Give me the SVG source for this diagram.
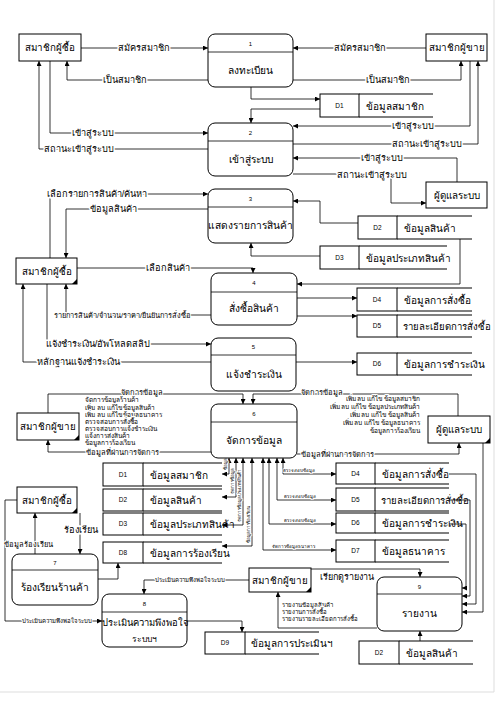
<svg xmlns="http://www.w3.org/2000/svg" width="497" height="703" viewBox="0 0 497 703">
<defs>
<marker id="a" viewBox="0 0 10 10" refX="10" refY="5" markerWidth="5" markerHeight="5" orient="auto-start-reverse" markerUnits="userSpaceOnUse"><path d="M0,0 L10,5 L0,10 z" fill="#000"/></marker>
<style>
text{font-family:"Liberation Sans","DejaVu Sans","Noto Sans",sans-serif;fill:#000}
.b{fill:#fff;stroke:#000;stroke-width:1}
.hl{stroke:#000;stroke-width:0.8}
.sl{stroke:#000;stroke-width:1.2}
.c path{fill:none;stroke:#000;stroke-width:0.8;marker-end:url(#a)}
.c path.bi{marker-start:url(#a)}
.en{font-size:9.8px;text-anchor:middle}
.pn{font-size:6px;text-anchor:middle}
.pl{font-size:10.2px;text-anchor:middle}
.si{font-size:6.5px;text-anchor:middle}
.st{font-size:10px}
.lb{font-size:9.2px;text-anchor:middle;stroke:#fff;stroke-width:3;paint-order:stroke}
.sm{font-size:6.5px;stroke:#fff;stroke-width:2;paint-order:stroke}
.tn{font-size:4.5px;stroke:#fff;stroke-width:1.5;paint-order:stroke}
.tri{fill:#000}
</style>
</defs>
<rect width="497" height="703" fill="#fff"/>
<line x1="494" y1="0" x2="494" y2="692" stroke="#ddd" stroke-width="1"/>
<line x1="0" y1="692" x2="494" y2="692" stroke="#ddd" stroke-width="1"/>

<g id="connectors" class="c">
<path d="M81 48 H208"/>
<path d="M208 80 H67 V61"/>
<path d="M426 48 H293"/>
<path d="M293 80 H461 V61"/>
<path d="M251 87 V99 H320"/>
<path d="M320 109 H251 V123"/>
<path d="M50 61 V133 H208"/>
<path d="M208 149 H39 V61"/>
<path d="M470 61 V126 H293"/>
<path d="M293 144 H478 V61"/>
<path d="M457 182 V158 H293"/>
<path d="M293 174 H391 V203 H426"/>
<path d="M50 258 V194 H208"/>
<path d="M208 209 H66 V258"/>
<path d="M358 223 H320 V201 H293"/>
<path d="M320 256 H251 V243"/>
<path d="M77 268 H253 V273"/>
<path d="M460 239 V284 H297"/>
<path d="M297 298 H357"/>
<path d="M297 316 H357"/>
<path d="M211 315 H66 V284"/>
<path d="M47 284 V344 H211"/>
<path d="M211 362 H23 V284"/>
<path d="M296 362 H357"/>
<path d="M48 413 V394 H243 V404"/>
<path d="M211 452 H48 V440"/>
<path d="M458 416 V394 H253 V404"/>
<path d="M297 454 H459 V443"/>
<path d="M483 443 V612 H462"/>
<path class="bi" d="M222 474 H229 V458"/>
<path class="bi" d="M222 497 H236 V458"/>
<path class="bi" d="M222 525 H243 V458"/>
<path class="bi" d="M222 546 H252 V458"/>
<path class="bi" d="M283 458 V474 H336"/>
<path class="bi" d="M277 458 V500 H336"/>
<path class="bi" d="M269 458 V524 H336"/>
<path class="bi" d="M263 458 V550 H336"/>
<path d="M80 513 V554"/>
<path d="M35 554 V513"/>
<path d="M98 579 H118 V563"/>
<path d="M17 500 H5 V621 H102"/>
<path d="M249 580 H144 V594"/>
<path d="M187 621 H242 V632"/>
<path d="M311 569 H420 V577"/>
<path d="M377 628 H278 V592"/>
<path d="M420 641 V631"/>
<path d="M449 474 H476 V604 H462"/>
<path d="M449 500 H470 V596 H462"/>
<path d="M449 524 H466 V588 H462"/>
</g>

<g id="connector-labels">
<text class="lb" x="144" y="51">สมัครสมาชิก</text>
<text class="lb" x="125" y="83">เป็นสมาชิก</text>
<text class="lb" x="360" y="51">สมัครสมาชิก</text>
<text class="lb" x="388" y="83">เป็นสมาชิก</text>
<text class="lb" x="93" y="136">เข้าสู่ระบบ</text>
<text class="lb" x="79" y="152">สถานะเข้าสู่ระบบ</text>
<text class="lb" x="413" y="129">เข้าสู่ระบบ</text>
<text class="lb" x="427" y="147">สถานะเข้าสู่ระบบ</text>
<text class="lb" x="382" y="161">เข้าสู่ระบบ</text>
<text class="lb" x="372" y="178">สถานะเข้าสู่ระบบ</text>
<text class="lb" x="97" y="197">เลือกรายการสินค้า/ค้นหา</text>
<text class="lb" x="113" y="212">ข้อมูลสินค้า</text>
<text class="lb" x="168" y="271">เลือกสินค้า</text>
<text class="sm" x="122" y="318" text-anchor="middle" style="font-size:7.4px">รายการสินค้า/จำนวน/ราคา/ยืนยันการสั่งซื้อ</text>
<text class="lb" x="98" y="347">แจ้งชำระเงิน/อัพโหลดสลิป</text>
<text class="lb" x="78" y="365">หลักฐานแจ้งชำระเงิน</text>
<text class="sm" x="142" y="395" text-anchor="middle" style="font-size:7.5px">จัดการข้อมูล</text>
<text class="sm" x="85" y="402">จัดการข้อมูลร้านค้า</text>
<text class="sm" x="85" y="409.5">เพิ่ม ลบ แก้ไข ข้อมูลสินค้า</text>
<text class="sm" x="85" y="417">เพิ่ม ลบ แก้ไข ข้อมูลธนาคาร</text>
<text class="sm" x="85" y="424">ตรวจสอบการสั่งซื้อ</text>
<text class="sm" x="85" y="431">ตรวจสอบการแจ้งชำระเงิน</text>
<text class="sm" x="85" y="438">แจ้งการส่งสินค้า</text>
<text class="sm" x="85" y="445">ข้อมูลการร้องเรียน</text>
<text class="sm" x="122" y="454.5" text-anchor="middle" style="font-size:7.5px">ข้อมูลที่ผ่านการจัดการ</text>
<text class="sm" x="322" y="395" text-anchor="middle" style="font-size:7.5px">จัดการข้อมูล</text>
<text class="sm" x="420" y="401" text-anchor="end">เพิ่ม ลบ แก้ไข ข้อมูลสมาชิก</text>
<text class="sm" x="420" y="409" text-anchor="end">เพิ่ม ลบ แก้ไข ข้อมูลประเภทสินค้า</text>
<text class="sm" x="420" y="417" text-anchor="end">เพิ่ม ลบ แก้ไข ข้อมูลสินค้า</text>
<text class="sm" x="420" y="425" text-anchor="end">เพิ่ม ลบ แก้ไข ข้อมูลธนาคาร</text>
<text class="sm" x="420" y="433" text-anchor="end">ข้อมูลการร้องเรียน</text>
<text class="sm" x="337" y="457" text-anchor="middle" style="font-size:7.5px">ข้อมูลที่ผ่านการจัดการ</text>
<text class="tn" transform="translate(227 470) rotate(-90)">ข้อมูล</text>
<text class="tn" transform="translate(234 494) rotate(-90)">จัดการข้อมูล</text>
<text class="tn" transform="translate(241 522) rotate(-90)">จัดการข้อมูลประเภทสินค้า</text>
<text class="tn" transform="translate(250 543) rotate(-90)">ข้อมูลการร้องเรียน</text>
<text class="tn" x="299" y="472" text-anchor="middle">ตรวจสอบข้อมูล</text>
<text class="tn" x="300" y="498" text-anchor="middle">ตรวจสอบข้อมูล</text>
<text class="tn" x="300" y="522" text-anchor="middle">ตรวจสอบข้อมูล</text>
<text class="tn" x="293" y="548" text-anchor="middle">จัดการข้อมูลธนาคาร</text>
<text class="lb" x="81" y="533">ร้องเรียน</text>
<text class="sm" x="28" y="547" text-anchor="middle" style="font-size:7.5px">ข้อมูลร้องเรียน</text>
<text class="sm" x="57" y="623" text-anchor="middle" style="font-size:6px">ประเมินความพึงพอใจระบบ</text>
<text class="sm" x="190" y="582" text-anchor="middle" style="font-size:6px">ประเมินความพึงพอใจระบบ</text>
<text class="lb" x="347" y="580" style="font-size:9px">เรียกดูรายงาน</text>
<text class="sm" x="282" y="607" style="font-size:6px">รายงานข้อมูลสินค้า</text>
<text class="sm" x="282" y="614" style="font-size:6px">รายงานการสั่งซื้อ</text>
<text class="sm" x="282" y="621" style="font-size:6px">รายงานรายละเอียดการสั่งซื้อ</text>
</g>

<g id="e-buyer-1"><rect class="b" x="19" y="34" width="62" height="27"/><text class="en" x="50" y="51">สมาชิกผู้ซื้อ</text></g>
<g id="e-seller-1"><rect class="b" x="426" y="34" width="61" height="27"/><text class="en" x="456.5" y="51">สมาชิกผู้ขาย</text></g>
<g id="e-admin-1"><rect class="b" x="426" y="182" width="61" height="26"/><text class="en" x="456.5" y="199">ผู้ดูแลระบบ</text></g>
<g id="e-buyer-2"><rect class="b" x="16" y="258" width="61" height="26"/><path class="tri" d="M77 279 V284 H72 z"/><text class="en" x="46.5" y="275">สมาชิกผู้ซื้อ</text></g>
<g id="e-seller-2"><rect class="b" x="17" y="413" width="62" height="27"/><path class="tri" d="M79 435 V440 H74 z"/><text class="en" x="48" y="430">สมาชิกผู้ขาย</text></g>
<g id="e-admin-2"><rect class="b" x="428" y="416" width="62" height="27"/><path class="tri" d="M490 438 V443 H485 z"/><text class="en" x="459" y="433">ผู้ดูแลระบบ</text></g>
<g id="e-buyer-3"><rect class="b" x="17" y="487" width="60" height="26"/><path class="tri" d="M77 508 V513 H72 z"/><text class="en" x="47" y="504">สมาชิกผู้ซื้อ</text></g>
<g id="e-seller-3"><rect class="b" x="249" y="568" width="62" height="24"/><path class="tri" d="M311 587 V592 H306 z"/><text class="en" x="280" y="584">สมาชิกผู้ขาย</text></g>

<g id="p1"><rect class="b" x="208" y="34" width="85" height="53" rx="7"/><line class="hl" x1="208" y1="52" x2="293" y2="52"/><text class="pn" x="250.5" y="46">1</text><text class="pl" x="250.5" y="74">ลงทะเบียน</text></g>
<g id="p2"><rect class="b" x="208" y="123" width="85" height="53" rx="7"/><line class="hl" x1="208" y1="141" x2="293" y2="141"/><text class="pn" x="250.5" y="135">2</text><text class="pl" x="250.5" y="163">เข้าสู่ระบบ</text></g>
<g id="p3"><rect class="b" x="208" y="189" width="85" height="54" rx="7"/><line class="hl" x1="208" y1="207" x2="293" y2="207"/><text class="pn" x="250.5" y="201">3</text><text class="pl" x="250.5" y="229">แสดงรายการสินค้า</text></g>
<g id="p4"><rect class="b" x="211" y="273" width="86" height="52" rx="7"/><line class="hl" x1="211" y1="292" x2="297" y2="292"/><text class="pn" x="254" y="285">4</text><text class="pl" x="254" y="312">สั่งซื้อสินค้า</text></g>
<g id="p5"><rect class="b" x="211" y="338" width="85" height="53" rx="7"/><line class="hl" x1="211" y1="355" x2="296" y2="355"/><text class="pn" x="253.5" y="349">5</text><text class="pl" x="253.5" y="378">แจ้งชำระเงิน</text></g>
<g id="p6"><rect class="b" x="211" y="404" width="86" height="54" rx="7"/><line class="hl" x1="211" y1="422" x2="297" y2="422"/><text class="pn" x="254" y="416">6</text><text class="pl" x="254" y="444">จัดการข้อมูล</text></g>
<g id="p7"><rect class="b" x="12" y="554" width="86" height="51" rx="7"/><line class="hl" x1="12" y1="570" x2="98" y2="570"/><text class="pn" x="55" y="565">7</text><text class="pl" x="55" y="591">ร้องเรียนร้านค้า</text></g>
<g id="p8"><rect class="b" x="102" y="594" width="85" height="53" rx="7"/><line class="hl" x1="102" y1="612" x2="187" y2="612"/><text class="pn" x="144.5" y="606">8</text><text class="pl" x="144.5" y="626" style="font-size:9.4px">ประเมินความพึงพอใจ</text><text class="pl" x="144.5" y="642" style="font-size:8.5px">ระบบฯ</text></g>
<g id="p9"><rect class="b" x="377" y="577" width="85" height="54" rx="7"/><line class="hl" x1="377" y1="594" x2="462" y2="594"/><text class="pn" x="419.5" y="589">9</text><text class="pl" x="419.5" y="617">รายงาน</text></g>

<g id="d1-a"><rect class="b" x="320" y="94" width="39" height="23"/><line class="sl" x1="359" y1="94" x2="433" y2="94"/><line class="sl" x1="359" y1="117" x2="433" y2="117"/><text class="si" x="339.5" y="108">D1</text><text class="st" x="366" y="109.5">ข้อมูลสมาชิก</text></g>
<g id="d2-a"><rect class="b" x="358" y="216" width="39" height="23"/><line class="sl" x1="397" y1="216" x2="472" y2="216"/><line class="sl" x1="397" y1="239" x2="472" y2="239"/><text class="si" x="377.5" y="230">D2</text><text class="st" x="404" y="231.5">ข้อมูลสินค้า</text></g>
<g id="d3-a"><rect class="b" x="320" y="246" width="39" height="23"/><line class="sl" x1="359" y1="246" x2="447" y2="246"/><line class="sl" x1="359" y1="269" x2="447" y2="269"/><text class="si" x="339.5" y="260">D3</text><text class="st" x="366" y="261.5">ข้อมูลประเภทสินค้า</text></g>
<g id="d4-a"><rect class="b" x="357" y="288" width="40" height="23"/><line class="sl" x1="397" y1="288" x2="472" y2="288"/><line class="sl" x1="397" y1="311" x2="472" y2="311"/><text class="si" x="377" y="302">D4</text><text class="st" x="404" y="303.5">ข้อมูลการสั่งซื้อ</text></g>
<g id="d5-a"><rect class="b" x="357" y="315" width="40" height="22"/><line class="sl" x1="397" y1="315" x2="472" y2="315"/><line class="sl" x1="397" y1="337" x2="472" y2="337"/><text class="si" x="377" y="328">D5</text><text class="st" x="403" y="329.5" style="font-size:9.6px">รายละเอียดการสั่งซื้อ</text></g>
<g id="d6-a"><rect class="b" x="357" y="353" width="40" height="22"/><line class="sl" x1="397" y1="353" x2="472" y2="353"/><line class="sl" x1="397" y1="375" x2="472" y2="375"/><text class="si" x="377" y="366">D6</text><text class="st" x="404" y="367.5">ข้อมูลการชำระเงิน</text></g>
<g id="d1-b"><rect class="b" x="103" y="463" width="40" height="23"/><line class="sl" x1="143" y1="463" x2="222" y2="463"/><line class="sl" x1="143" y1="486" x2="222" y2="486"/><text class="si" x="123" y="477">D1</text><text class="st" x="150" y="478.5">ข้อมูลสมาชิก</text></g>
<g id="d2-b"><rect class="b" x="103" y="489" width="40" height="22"/><line class="sl" x1="143" y1="489" x2="222" y2="489"/><line class="sl" x1="143" y1="511" x2="222" y2="511"/><text class="si" x="123" y="502">D2</text><text class="st" x="150" y="503.5">ข้อมูลสินค้า</text></g>
<g id="d3-b"><rect class="b" x="103" y="513" width="40" height="22"/><line class="sl" x1="143" y1="513" x2="222" y2="513"/><line class="sl" x1="143" y1="535" x2="222" y2="535"/><text class="si" x="123" y="526">D3</text><text class="st" x="150" y="527.5">ข้อมูลประเภทสินค้า</text></g>
<g id="d8-b"><rect class="b" x="103" y="542" width="40" height="21"/><line class="sl" x1="143" y1="542" x2="222" y2="542"/><line class="sl" x1="143" y1="563" x2="222" y2="563"/><text class="si" x="123" y="555">D8</text><text class="st" x="150" y="556.5">ข้อมูลการร้องเรียน</text></g>
<g id="d4-b"><rect class="b" x="336" y="463" width="39" height="21"/><line class="sl" x1="375" y1="463" x2="449" y2="463"/><line class="sl" x1="375" y1="484" x2="449" y2="484"/><text class="si" x="355.5" y="476">D4</text><text class="st" x="382" y="477.5">ข้อมูลการสั่งซื้อ</text></g>
<g id="d5-b"><rect class="b" x="336" y="488" width="39" height="23"/><line class="sl" x1="375" y1="488" x2="449" y2="488"/><line class="sl" x1="375" y1="511" x2="449" y2="511"/><text class="si" x="355.5" y="502">D5</text><text class="st" x="381" y="503.5" style="font-size:9.6px">รายละเอียดการสั่งซื้อ</text></g>
<g id="d6-b"><rect class="b" x="336" y="513" width="39" height="20"/><line class="sl" x1="375" y1="513" x2="449" y2="513"/><line class="sl" x1="375" y1="533" x2="449" y2="533"/><text class="si" x="355.5" y="525">D6</text><text class="st" x="382" y="526.5">ข้อมูลการชำระเงิน</text></g>
<g id="d7-b"><rect class="b" x="336" y="540" width="39" height="22"/><line class="sl" x1="375" y1="540" x2="449" y2="540"/><line class="sl" x1="375" y1="562" x2="449" y2="562"/><text class="si" x="355.5" y="553">D7</text><text class="st" x="382" y="554.5">ข้อมูลธนาคาร</text></g>
<g id="d9"><rect class="b" x="205" y="632" width="40" height="22"/><line class="sl" x1="245" y1="632" x2="319" y2="632"/><line class="sl" x1="245" y1="654" x2="319" y2="654"/><text class="si" x="225" y="645">D9</text><text class="st" x="251" y="646.5">ข้อมูลการประเมินฯ</text></g>
<g id="d2-c"><rect class="b" x="359" y="641" width="40" height="23"/><line class="sl" x1="399" y1="641" x2="473" y2="641"/><line class="sl" x1="399" y1="664" x2="473" y2="664"/><text class="si" x="379" y="655">D2</text><text class="st" x="406" y="656.5">ข้อมูลสินค้า</text></g>
</svg>
